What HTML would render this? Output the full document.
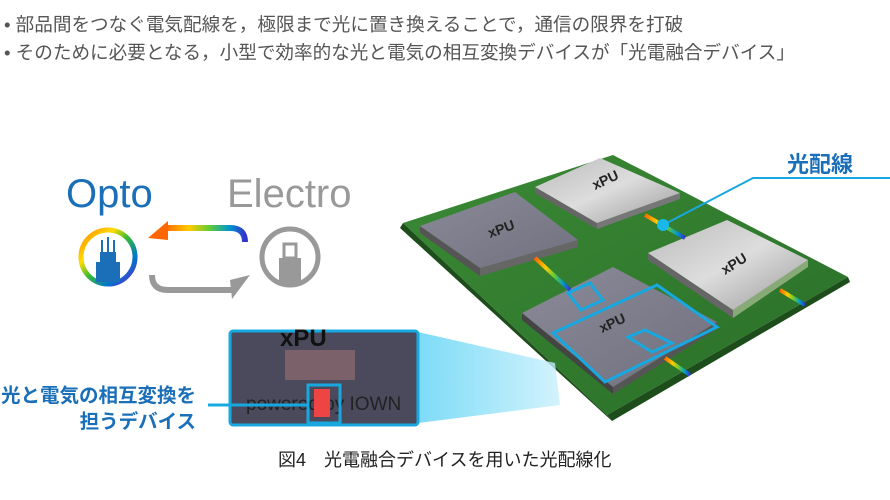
<!DOCTYPE html>
<html><head><meta charset="utf-8"><style>
body{margin:0;width:890px;height:500px;background:#fff;overflow:hidden;font-family:"Liberation Sans","Noto Sans CJK JP",sans-serif}
.b{position:absolute;left:4px;font-size:18.6px;color:#555;white-space:nowrap}
</style></head><body>
<div class="b" style="top:10px">• 部品間をつなぐ電気配線を，極限まで光に置き換えることで，通信の限界を打破</div>
<div class="b" style="top:38px">• そのために必要となる，小型で効率的な光と電気の相互変換デバイスが「光電融合デバイス」</div>
<svg width="890" height="500" style="position:absolute;left:0;top:0">
<defs>
<linearGradient id="rb" x1="0" y1="0" x2="1" y2="0">
<stop offset="0" stop-color="#f60"/><stop offset=".3" stop-color="#fc0"/><stop offset=".55" stop-color="#6c3"/><stop offset=".8" stop-color="#09c"/><stop offset="1" stop-color="#33c"/></linearGradient>
<linearGradient id="rc" x1="0" y1="0" x2="1" y2="1">
<stop offset="0" stop-color="#f80"/><stop offset=".3" stop-color="#fd0"/><stop offset=".5" stop-color="#3b3"/><stop offset=".75" stop-color="#07c"/><stop offset="1" stop-color="#62c"/></linearGradient>
<linearGradient id="cy" x1="0" y1="0" x2="1" y2="0"><stop offset="0" stop-color="#5cd2f5"/><stop offset="1" stop-color="#c8f0fc"/></linearGradient>
<linearGradient id="chip" x1="0" y1="0" x2="1" y2="1"><stop offset="0" stop-color="#bbb"/><stop offset=".5" stop-color="#ddd"/><stop offset="1" stop-color="#999"/></linearGradient>
<linearGradient id="chipd" x1="0" y1="0" x2="1" y2="1"><stop offset="0" stop-color="#8a8a98"/><stop offset="1" stop-color="#70707e"/></linearGradient>
<linearGradient id="gr" x1="0" y1="0" x2="1" y2="1"><stop offset="0" stop-color="#3a8a35"/><stop offset="1" stop-color="#2a6e28"/></linearGradient>
</defs>
<text x="66" y="207" font-size="40" fill="#1a6fb8">Opto</text>
<text x="227" y="207" font-size="40" fill="#999">Electro</text>
<circle cx="108" cy="257" r="27" fill="none" stroke="url(#rc)" stroke-width="5"/>
<rect x="96" y="262" width="24" height="20" fill="#1a6fb8"/><rect x="100" y="252" width="16" height="12" fill="#1a6fb8"/>
<g stroke="#1a6fb8" stroke-width="2"><line x1="102" y1="252" x2="102" y2="240"/><line x1="108" y1="252" x2="108" y2="237"/><line x1="114" y1="252" x2="114" y2="240"/></g>
<circle cx="290" cy="257" r="28" fill="none" stroke="#999" stroke-width="5"/>
<rect x="279" y="258" width="22" height="25" fill="#999"/><rect x="284" y="244" width="12" height="14" fill="none" stroke="#999" stroke-width="3"/>
<path d="M245,242 Q245,228 230,228 L165,228" fill="none" stroke="url(#rb)" stroke-width="6"/>
<polygon points="148,238 168,221 168,240" fill="#f60"/>
<path d="M152,275 Q152,290 168,290 L235,290" fill="none" stroke="#999" stroke-width="6"/>
<polygon points="250,275 230,280 232,299" fill="#999"/>
<polygon points="403,223 613,155 848,277 607,415" fill="url(#gr)"/>
<polygon points="403,223 607,415 612,421 400,228" fill="#1d4d1b"/>
<polygon points="607,415 848,277 850,282 612,421" fill="#1d4d1b"/>
<polygon points="420,226 480,268 480,276 420,233" fill="#555"/><polygon points="480,268 578,240 578,247 480,276" fill="#666"/>
<polygon points="420,226 515,192 578,240 480,268" fill="url(#chipd)"/>
<polygon points="535,187 597,223 597,229 535,193" fill="#666"/><polygon points="597,223 680,193 680,199 597,229" fill="#777"/>
<polygon points="535,187 600,158 680,193 597,223" fill="url(#chip)"/>
<polygon points="648,253 733,310 733,318 648,260" fill="#666"/><polygon points="733,310 808,260 808,267 733,318" fill="#8a7"/>
<polygon points="648,253 727,220 808,260 733,310" fill="url(#chip)"/>
<polygon points="522,313 613,387 613,394 522,320" fill="#444"/><polygon points="613,387 717,322 717,329 613,394" fill="#555"/>
<polygon points="522,313 613,267 717,322 613,387" fill="url(#chipd)"/>
<g font-weight="bold" font-size="14" fill="#222">
<text x="0" y="0" transform="translate(490,238) rotate(-20)">xPU</text>
<text x="0" y="0" transform="translate(595,190) rotate(-25)">xPU</text>
<text x="0" y="0" transform="translate(725,275) rotate(-32)">xPU</text>
<text x="0" y="0" transform="translate(602,333) rotate(-25)">xPU</text>
</g>
<line x1="535" y1="258" x2="570" y2="290" stroke="url(#rb)" stroke-width="4"/>
<line x1="645" y1="215" x2="685" y2="238" stroke="url(#rb)" stroke-width="4"/>
<line x1="780" y1="290" x2="805" y2="305" stroke="url(#rb)" stroke-width="4"/>
<line x1="665" y1="358" x2="690" y2="375" stroke="url(#rb)" stroke-width="4"/>
<polygon points="553,333 657,285 717,327 605,382" fill="none" stroke="#18a8e0" stroke-width="3"/>
<polygon points="568,293 590,283 603,300 581,310" fill="none" stroke="#18a8e0" stroke-width="3"/>
<polygon points="628,337 645,330 672,343 652,352" fill="none" stroke="#18a8e0" stroke-width="3"/>
<polygon points="418,332 555,363 560,405 418,423" fill="url(#cy)" opacity=".8"/>
<rect x="230" y="331" width="188" height="94" rx="3" fill="#4a4a5c" stroke="#18a8e0" stroke-width="3"/>
<text x="280" y="346" font-size="24" font-weight="bold" fill="#111">xPU</text>
<rect x="285" y="350" width="70" height="30" fill="#a77" opacity=".5"/>
<text x="246" y="410" font-size="19" fill="#222">powered by IOWN</text>
<rect x="314" y="389" width="16" height="28" fill="#e44"/>
<rect x="308" y="385" width="32" height="38" fill="none" stroke="#18a8e0" stroke-width="3"/>
<line x1="208" y1="405" x2="308" y2="405" stroke="#18a8e0" stroke-width="3"/>
<text x="196" y="402" font-size="19.5" font-weight="bold" fill="#1a6fb8" text-anchor="end">光と電気の相互変換を</text>
<text x="196" y="428" font-size="19.5" font-weight="bold" fill="#1a6fb8" text-anchor="end">担うデバイス</text>
<polyline points="663,225 753,178 890,178" fill="none" stroke="#18a8e0" stroke-width="2"/>
<circle cx="663" cy="225" r="6" fill="#18b8ea"/>
<text x="787" y="172" font-size="22" font-weight="bold" fill="#1a6fb8">光配線</text>
<text x="278" y="466" font-size="18" fill="#222">図4　光電融合デバイスを用いた光配線化</text>
</svg>
</body></html>
